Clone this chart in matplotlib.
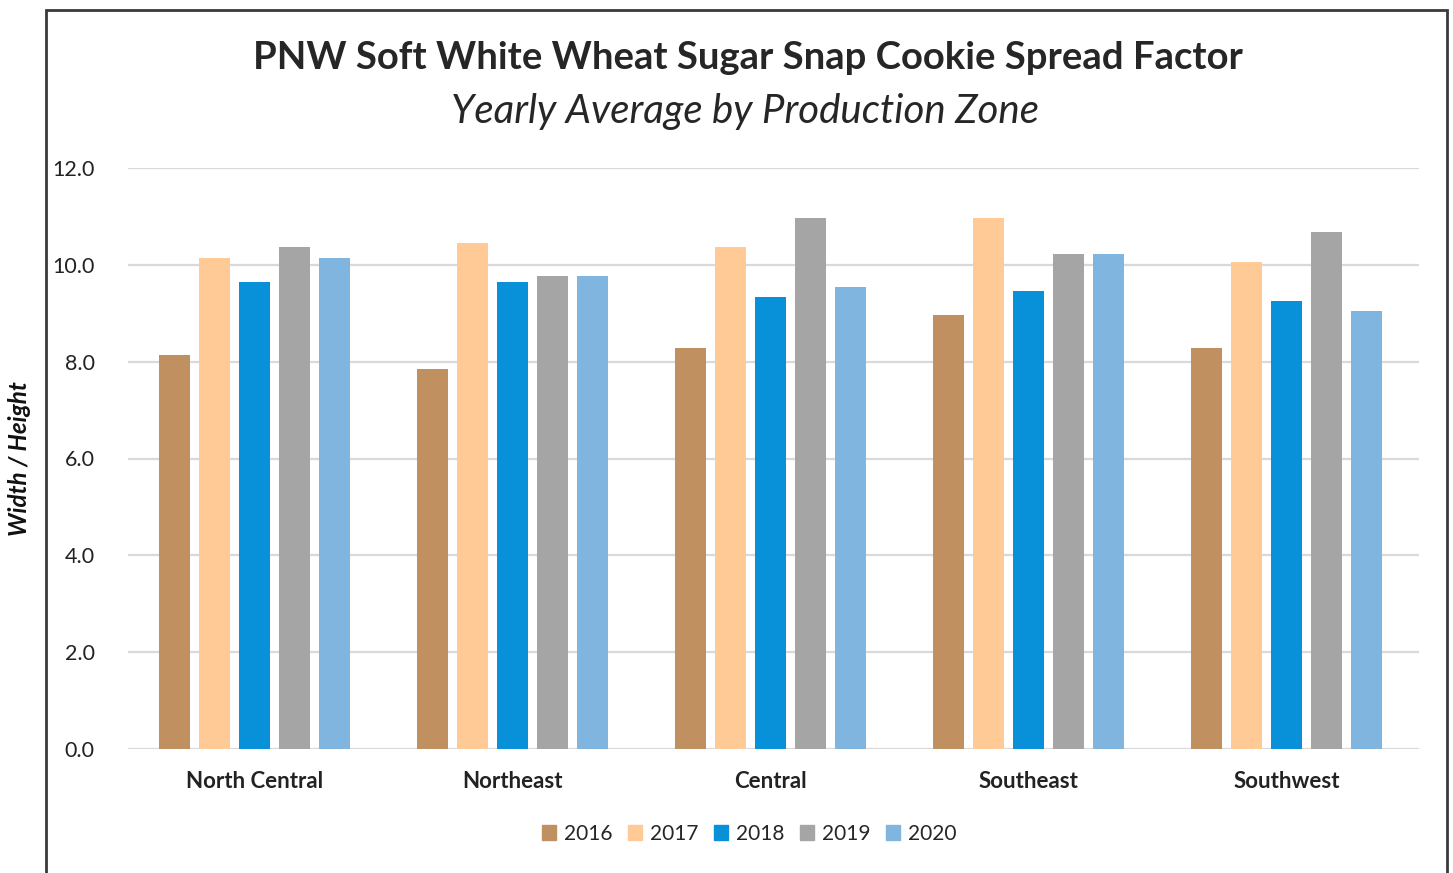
import numpy as np
import matplotlib
matplotlib.use("Agg")
import matplotlib.pyplot as plt
import matplotlib.patches as mpatches

plt.rcParams["font.family"] = ["Lato", "DejaVu Sans"]

# ── Data ─────────────────────────────────────────────────────────────────────
zones = ["North Central", "Northeast", "Central", "Southeast", "Southwest"]
years = ["2016", "2017", "2018", "2019", "2020"]
v2016 = [8.14, 7.84, 8.28, 8.96, 8.28]
v2017 = [10.14, 10.45, 10.36, 10.96, 10.06]
v2018 = [9.64, 9.64, 9.34, 9.46, 9.25]
v2019 = [10.36, 9.77, 10.96, 10.23, 10.67]
v2020 = [10.14, 9.77, 9.55, 10.23, 9.04]
series = [v2016, v2017, v2018, v2019, v2020]
colors = ["#C09060", "#FFCA96", "#0890D8", "#A5A5A5", "#7FB5DE"]

W, H = 1453, 873
fig = plt.figure(figsize=(W / 100, H / 100), dpi=100)
fig.patch.set_facecolor("white")

# outer chart border
border = mpatches.Rectangle((46 / W, -0.05), (1447 - 46) / W, 1.05 - 10 / H,
                            transform=fig.transFigure, fill=False,
                            edgecolor="#3a3a3a", lw=2, clip_on=False)
fig.patches.append(border)

ax = fig.add_axes([128 / W, 1 - 749 / H, (1419 - 128) / W, (749 - 168) / H])

x = np.arange(len(zones))
pitch = 40 / 258
bw = 31 / 258
for i, (vals, c, yr) in enumerate(zip(series, colors, years)):
    ax.bar(x + (i - 2) * pitch, vals, width=bw, color=c, label=yr, zorder=3)

shift = 3 / 258
ax.set_xlim(-0.5 + shift, len(zones) - 0.5 + shift)
ax.set_ylim(0, 12)
ax.set_yticks(np.arange(0, 12.1, 2))
ax.set_yticklabels([f"{t:.1f}" for t in np.arange(0, 12.1, 2)], fontsize=15.5, color="#222222")
ax.set_xticks(x)
ax.set_xticklabels(zones, fontsize=16, fontweight="bold", color="#222222")
ax.tick_params(axis="y", length=0, pad=24)
ax.tick_params(axis="x", length=0, pad=16)
ax.grid(axis="y", color="#D9D9D9", lw=1.6, zorder=0)
for s in ax.spines.values():
    s.set_visible(False)

fig.text(0.515, 1 - 58 / H, "PNW Soft White Wheat Sugar Snap Cookie Spread Factor",
         ha="center", va="center", fontsize=27.5, fontweight="bold", color="#262626")
fig.text(0.513, 1 - 111 / H, "Yearly Average by Production Zone",
         ha="center", va="center", fontsize=29, style="italic", color="#262626")
fig.text(20 / W, 1 - 459 / H, "Width / Height", rotation=90, ha="center", va="center",
         fontsize=17.5, fontweight="bold", style="italic", color="#111111")

handles = [mpatches.Patch(color=c, label=y) for c, y in zip(colors, years)]
fig.legend(handles=handles, loc="center", bbox_to_anchor=(749 / W, 1 - 834 / H),
           ncol=5, frameon=False, fontsize=15, handlelength=0.7, handleheight=0.7,
           handletextpad=0.35, columnspacing=0.75, labelcolor="#262626")

fig.savefig("out.png", dpi=100, facecolor="white")
